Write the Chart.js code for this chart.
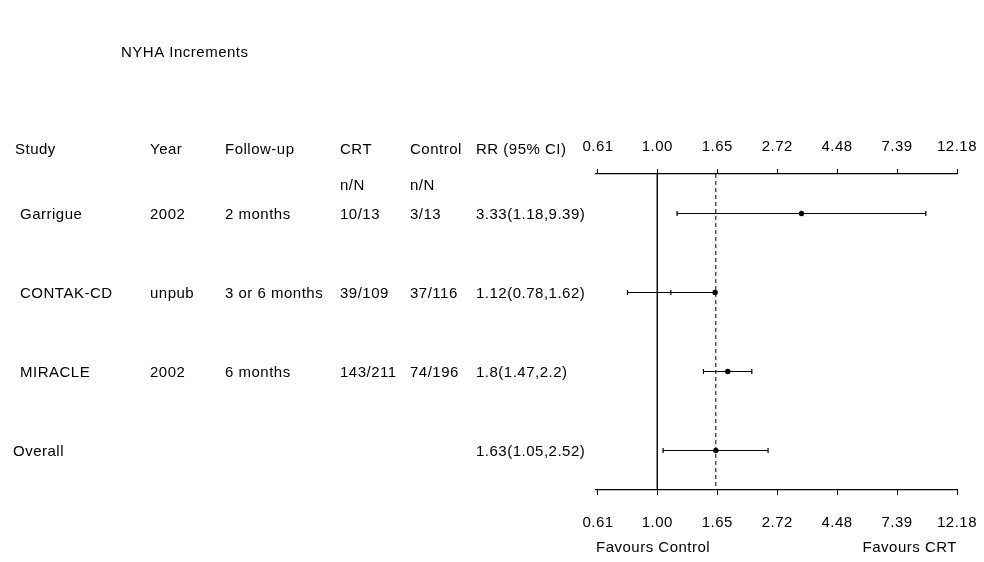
<!DOCTYPE html>
<html>
<head>
<meta charset="utf-8">
<script src="https://cdn.jsdelivr.net/npm/chart.js@4"></script>
<style>
  body { margin: 0; background: #fff; }
  #wrap { width: 984px; height: 562px; position: relative; }
</style>
</head>
<body>
<div id="wrap"><canvas id="forest"></canvas></div>
<script>
// data
const studies = ['Garrigue', 'CONTAK-CD', 'MIRACLE', 'Overall'];
const years = ['2002', 'unpub', '2002', ''];
const followUp = ['2 months', '3 or 6 months', '6 months', ''];
const crtCounts = ['10/13', '39/109', '143/211', ''];
const controlCounts = ['3/13', '37/116', '74/196', ''];
const rr = [3.33, 1.12, 1.8, 1.63];
const lo = [1.18, 0.78, 1.47, 1.05];
const hi = [9.39, 1.62, 2.2, 2.52];
const rrText = ['3.33(1.18,9.39)', '1.12(0.78,1.62)', '1.8(1.47,2.2)', '1.63(1.05,2.52)'];
// where the big dot is drawn (CONTAK-CD's sits on its upper limit in the original)
const dotAt = [3.33, 1.62, 1.8, 1.63];
const tickVals = [0.61, 1.00, 1.65, 2.72, 4.48, 7.39, 12.18];
const tickLabels = ['0.61', '1.00', '1.65', '2.72', '4.48', '7.39', '12.18'];
const overallRR = 1.63;

const FONT = "'Liberation Sans', Arial, sans-serif";
const FSIZE = 15;
const SPACING = '0.5px';
Chart.defaults.font.family = FONT;
Chart.defaults.font.size = FSIZE;
Chart.defaults.color = '#000';

const rowY = studies.map((s, i) => i + 1);

const datasets = [];
// no-effect line and overall line
datasets.push({
  type: 'line', data: [{ x: 1, y: 0.5 }, { x: 1, y: 4.5 }],
  borderColor: '#000', borderWidth: 1.4, pointRadius: 0
});
datasets.push({
  type: 'line', data: [{ x: overallRR, y: 0.5 }, { x: overallRR, y: 4.5 }],
  borderColor: '#000', borderWidth: 1, borderDash: [4, 3], pointRadius: 0
});
// CI whiskers
studies.forEach((s, i) => {
  datasets.push({
    type: 'line',
    data: [{ x: lo[i], y: rowY[i] }, { x: rr[i], y: rowY[i] }, { x: hi[i], y: rowY[i] }],
    borderColor: '#000', borderWidth: 1.2,
    pointStyle: 'line', rotation: 90, pointRadius: 2.5,
    pointBorderColor: '#000', pointBorderWidth: 1.2
  });
});
// point estimates
datasets.push({
  type: 'scatter',
  data: dotAt.map((v, i) => ({ x: v, y: rowY[i] })),
  pointRadius: 2.7, pointBackgroundColor: '#000', pointBorderColor: '#000', pointBorderWidth: 0
});

// wider letter spacing, like the original's bitmap font
const spacing = {
  id: 'spacing',
  beforeDraw(chart) { chart.ctx.letterSpacing = SPACING; }
};

const tableText = {
  id: 'tableText',
  afterDraw(chart) {
    const ctx = chart.ctx;
    const y = chart.scales.y;
    ctx.save();
    ctx.letterSpacing = SPACING;
    ctx.fillStyle = '#000';
    ctx.font = FSIZE + 'px ' + FONT;
    ctx.textBaseline = 'middle';
    ctx.textAlign = 'left';
    ctx.fillText('NYHA Increments', 121, 53);

    const cols = [15, 150, 225, 340, 410, 476];
    ['Study', 'Year', 'Follow-up', 'CRT', 'Control', 'RR (95% CI)'].forEach((t, k) => ctx.fillText(t, cols[k], 150));
    ctx.fillText('n/N', cols[3], 186);
    ctx.fillText('n/N', cols[4], 186);

    studies.forEach((s, i) => {
      const py = y.getPixelForValue(rowY[i]) + 1;
      ctx.fillText(s, i === 3 ? 13 : 20, py);
      ctx.fillText(years[i], cols[1], py);
      ctx.fillText(followUp[i], cols[2], py);
      ctx.fillText(crtCounts[i], cols[3], py);
      ctx.fillText(controlCounts[i], cols[4], py);
      ctx.fillText(rrText[i], cols[5], py);
    });

    const a = chart.chartArea;
    ctx.fillText('Favours Control', a.left, 548);
    ctx.textAlign = 'right';
    ctx.fillText('Favours CRT', a.right, 548);
    ctx.restore();
  }
};

function logAxis(position, height, pad) {
  return {
    type: 'logarithmic',
    position: position,
    min: tickVals[0],
    max: tickVals[tickVals.length - 1],
    afterBuildTicks: (scale) => { scale.ticks = tickVals.map(v => ({ value: v })); },
    afterFit: (scale) => {
      scale.height = height;
      scale.paddingLeft = 0;
      scale.paddingRight = 0;
    },
    ticks: {
      autoSkip: false, maxRotation: 0, padding: pad, color: '#000',
      font: { size: FSIZE },
      callback: (v, i) => tickLabels[i]
    },
    grid: { drawOnChartArea: false, drawTicks: true, tickLength: 5, color: '#000', lineWidth: 1 },
    border: { display: true, color: '#000', width: 1.2 }
  };
}

new Chart(document.getElementById('forest'), {
  type: 'scatter',
  data: { datasets: datasets },
  options: {
    responsive: true,
    maintainAspectRatio: false,
    animation: false,
    layout: { padding: { left: 596, right: 27, top: 0, bottom: 0 } },
    plugins: { legend: { display: false }, tooltip: { enabled: false }, title: { display: false } },
    scales: {
      x: logAxis('top', 174, 13),
      x2: logAxis('bottom', 72, 19),
      y: { type: 'linear', display: false, reverse: true, min: 0.5, max: 4.5 }
    }
  },
  plugins: [spacing, tableText]
});
</script>
</body>
</html>
